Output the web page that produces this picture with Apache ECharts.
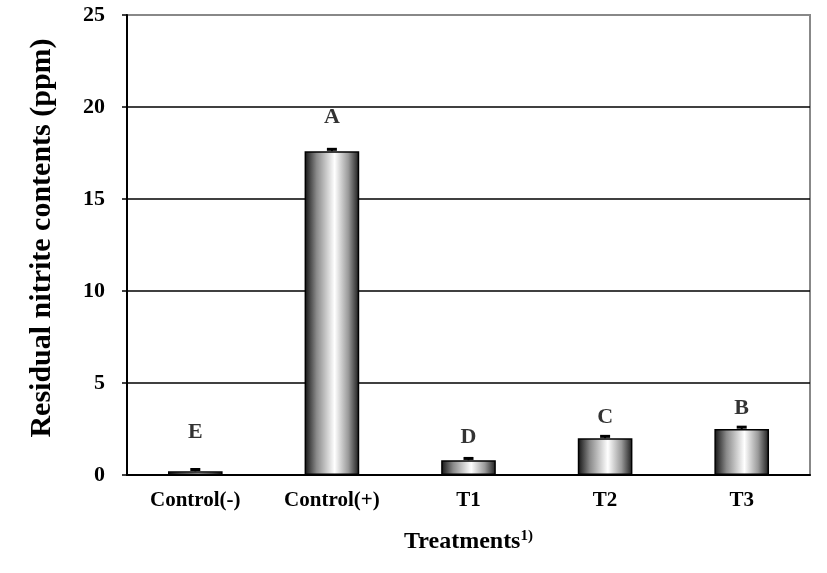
<!DOCTYPE html>
<html><head><meta charset="utf-8">
<script src="https://cdn.jsdelivr.net/npm/echarts@6/dist/echarts.min.js"></script>
<style>html,body{margin:0;padding:0;background:#fff}#c{width:827px;height:573px}</style>
</head><body><div id="c"></div>
<script>
const categories = ['Control(-)', 'Control(+)', 'T1', 'T2', 'T3'];
const values = [0.2, 17.6, 0.8, 2.0, 2.5];
const errors = [0.1, 0.1, 0.1, 0.1, 0.1];
const letters = ['E', 'A', 'D', 'C', 'B'];
const letterY = [2.34, 19.45, 2.07, 3.15, 3.64];
const yTicks = [0, 5, 10, 15, 20, 25];

const serif = '"Liberation Serif", "Times New Roman", serif';
const chart = echarts.init(document.getElementById('c'));
chart.setOption({
  animation: false,
  graphic: [{
    type: 'text', x: 42, y: 238, rotation: Math.PI / 2,
    style: { text: 'Residual nitrite contents (ppm)', font: 'bold 30px ' + serif, fill: '#000', align: 'center', verticalAlign: 'middle' }
  }],
  grid: { left: 127, right: 17, top: 15, bottom: 98, show: true, borderColor: '#888', borderWidth: 2 },
  xAxis: {
    type: 'category', data: categories,
    name: '{t|Treatments}{s|1)}', nameLocation: 'middle', nameGap: 54,
    nameTextStyle: { rich: { t: { fontFamily: serif, fontWeight: 'bold', fontSize: 24, color: '#000' }, s: { fontFamily: serif, fontWeight: 'bold', fontSize: 15, color: '#000', verticalAlign: 'top', padding: [0,0,10,0] } } },
    axisLine: { lineStyle: { color: '#000', width: 2 } },
    axisTick: { inside: true, length: 6, lineStyle: { color: '#000', width: 2 } },
    axisLabel: { fontFamily: serif, fontWeight: 'bold', fontSize: 21, color: '#000', margin: 15 }
  },
  yAxis: {
    type: 'value', min: 0, max: 25, interval: 5,
    axisLine: { show: true, lineStyle: { color: '#000', width: 2 } },
    axisTick: { show: true, length: 5, lineStyle: { color: '#000', width: 1.5 } },
    axisLabel: { fontFamily: serif, fontWeight: 'bold', fontSize: 22, color: '#000', margin: 22,
      formatter: v => yTicks.includes(v) ? String(v) : '' },
    splitLine: { show: true, lineStyle: { color: ['#000', '#000', '#000', '#000', '#000', '#888'], width: 1.5 } }
  },
  series: [
    {
      type: 'bar', data: values, barWidth: '40%',
      itemStyle: {
        borderColor: '#000', borderWidth: 1.5,
        color: new echarts.graphic.LinearGradient(0, 0, 1, 0, [
          { offset: 0, color: '#111111' },
          { offset: 0.22, color: '#8a8a8a' },
          { offset: 0.55, color: '#ffffff' },
          { offset: 0.8, color: '#9a9a9a' },
          { offset: 1, color: '#1a1a1a' }
        ])
      },
      z: 2
    },
    {
      type: 'custom', z: 3,
      data: values.map((v, i) => [i, v, errors[i]]),
      renderItem: (params, api) => {
        const x = api.coord([api.value(0), 0])[0];
        const top = api.coord([api.value(0), api.value(1) + api.value(2)]);
        const bot = api.coord([api.value(0), api.value(1)]);
        return { type: 'group', children: [
          { type: 'line', shape: { x1: x, y1: bot[1], x2: x, y2: top[1] }, style: { stroke: '#000', lineWidth: 2 } },
          { type: 'line', shape: { x1: x - 5, y1: top[1], x2: x + 5, y2: top[1] }, style: { stroke: '#000', lineWidth: 3 } }
        ] };
      }
    },
    {
      type: 'scatter', symbolSize: 0, z: 4,
      data: letterY.map((y, i) => ({ value: [i, y], name: letters[i] })),
      label: { show: true, position: 'inside', formatter: p => p.name, fontFamily: serif, fontWeight: 'bold', fontSize: 22, color: '#000' }
    }
  ]
});
</script></body></html>
